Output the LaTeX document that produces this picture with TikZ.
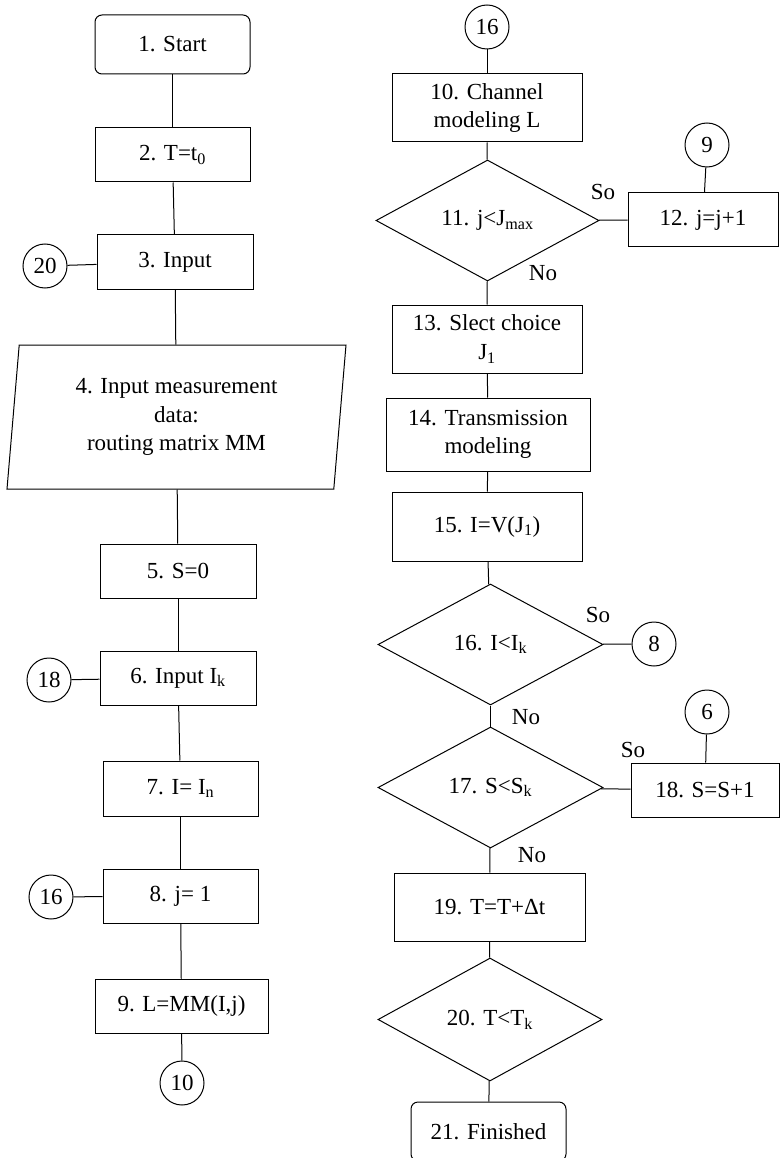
\documentclass[tikz,border=0pt]{standalone}
\usepackage{fontspec}
\setmainfont{Liberation Serif}
\usetikzlibrary{shapes.geometric}
\begin{document}
\begin{tikzpicture}[x=1pt,y=-1pt,line width=1pt,
  font=\fontsize{23}{28.5}\selectfont,
  every node/.style={inner sep=0pt,align=center},
  box/.style={draw,minimum width=155,minimum height=54},
  tallbox/.style={box,minimum width=190,minimum height=68},
  term/.style={box,rounded corners=7,minimum height=59},
  test/.style={draw,diamond,minimum width=224,minimum height=121},
  link/.style={draw,circle,minimum size=44},
  io/.style={draw,trapezium,trapezium left angle=81,trapezium right angle=99,
    trapezium stretches body,minimum width=339,minimum height=144}]
  \useasboundingbox (0,0) rectangle (779,1158);
  % left column
  \node[term] (start) at (172.5,44.5) {1. Start};
  \node[box] (tzero) at (172.5,155) {2. T=t\textsubscript{0}};
  \node[box,minimum width=156] (input) at (175,262) {3. Input};
  \node[link] (conn20) at (45,266) {20};
  \node[io] (data) at (176.5,417) {4. Input measurement\\data:\\routing matrix MM};
  \node[box,minimum width=156] (szero) at (178,571) {5. S=0};
  \node[box,minimum width=156] (inIk) at (178,678) {6. Input I\textsubscript{k}};
  \node[link] (conn18) at (49,680) {18};
  \node[box,minimum height=55] (setI) at (180.5,788.5) {7. I= I\textsubscript{n}};
  \node[box] (jone) at (180.5,896) {8. j= 1};
  \node[link] (conn16) at (51,897) {16};
  \node[box,minimum width=173] (setL) at (181.5,1006) {9. L=MM(I,j)};
  \node[link] (conn10) at (182,1083) {10};
  % right column
  \node[link] (from16) at (487,27) {16};
  \node[tallbox] (chan) at (487,108) {10. Channel\\modeling L};
  \node[test,minimum width=223] (jtest) at (487.5,220.5) {11. j<J\textsubscript{max}};
  \node[box,minimum width=150] (jinc) at (703,220) {12. j=j+1};
  \node[link] (from9) at (707,145) {9};
  \node[tallbox] (choice) at (487,339) {13. Slect choice\\J\textsubscript{1}};
  \node[tallbox,minimum width=204,minimum height=73] (trans) at (488,434.5) {14. Transmission\\modeling};
  \node[tallbox,minimum height=69] (setV) at (487,526.5) {15. I=V(J\textsubscript{1})};
  \node[test,minimum width=225] (itest) at (490.5,644.5) {16. I<I\textsubscript{k}};
  \node[link] (to8) at (654,644) {8};
  \node[test,minimum width=225] (stest) at (490.5,787.5) {17. S<S\textsubscript{k}};
  \node[box,minimum width=148] (sinc) at (705,790) {18. S=S+1};
  \node[link] (to6) at (707,712) {6};
  \node[tallbox,minimum width=191] (tinc) at (489.5,907) {19. T=T+Δt};
  \node[test,minimum height=123] (ttest) at (490,1019.5) {20. T<T\textsubscript{k}};
  \node[term] (finish) at (488.5,1131.5) {21. Finished};
  % yes / no labels
  \node (yes11) at (603,192) {So};
  \node (no11) at (543,273) {No};
  \node (yes16) at (598,615) {So};
  \node (no16) at (526,717) {No};
  \node (yes17) at (633,750) {So};
  \node (no17) at (532,855) {No};
  % connectors
  \draw (start) -- (tzero);
  \draw (tzero) -- (input);
  \draw (conn20) -- (input);
  \draw (input) -- (data);
  \draw (data) -- (szero);
  \draw (szero) -- (inIk);
  \draw (conn18) -- (inIk);
  \draw (inIk) -- (setI);
  \draw (setI) -- (jone);
  \draw (conn16) -- (jone);
  \draw (jone) -- (setL);
  \draw (setL) -- (conn10);
  \draw (from16) -- (chan);
  \draw (chan) -- (jtest);
  \draw (jtest) -- (jinc);
  \draw (from9) -- (jinc);
  \draw (jtest) -- (choice);
  \draw (choice) -- (trans);
  \draw (trans) -- (setV);
  \draw (setV) -- (itest);
  \draw (itest) -- (to8);
  \draw (itest) -- (stest);
  \draw (stest) -- (sinc);
  \draw (to6) -- (sinc);
  \draw (stest) -- (tinc);
  \draw (tinc) -- (ttest);
  \draw (ttest) -- (finish);
\end{tikzpicture}
\end{document}
